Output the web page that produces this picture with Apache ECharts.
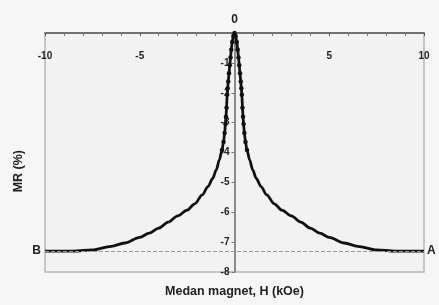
<!DOCTYPE html>
<html lang="en">
  <head>
    <meta charset="UTF-8" />
    <title>MR vs H</title>
    <script src="https://cdn.jsdelivr.net/npm/echarts@6/dist/echarts.min.js"></script>
    <style>
      body { margin: 0; background: #ffffff; }
    </style>
  </head>
  <body>
    <div id="main" style="width: 439px; height: 305px"></div>
    <script type="text/javascript">
      // field values (kOe) on the positive side
      let fieldH = [0, 0.06, 0.12, 0.17, 0.21, 0.25, 0.29, 0.33, 0.36, 0.39, 0.42, 0.45, 0.48, 0.52,
        0.58, 0.66, 0.8, 0.96, 1.15, 1.4, 1.7, 2.1, 2.5, 3.0, 3.5, 4.0, 4.5, 5.0, 5.8, 6.5, 7.5, 8.5, 10];
      // MR (%) at those fields
      let mrValues = [0, -0.1, -0.3, -0.56, -0.82, -1.08, -1.35, -1.62, -1.85, -2.07, -2.5, -2.8, -3.05, -3.35,
        -3.65, -3.92, -4.25, -4.58, -4.87, -5.14, -5.42, -5.72, -5.93, -6.12, -6.33, -6.53, -6.7, -6.84, -7.03, -7.14, -7.26, -7.3, -7.3];
      let saturation = -7.3;
      let xTicks = [-10, -5, 5, 10];

      // curve is symmetric in H: mirror the read branch
      let points = [];
      for (let i = fieldH.length - 1; i > 0; i--) points.push([-fieldH[i], mrValues[i]]);
      for (let i = 0; i < fieldH.length; i++) points.push([fieldH[i], mrValues[i]]);

      let labelFont = { color: "#222", fontFamily: "Liberation Sans", fontWeight: "bold" };

      let options = {
        backgroundColor: "#f6f6f6",
        animation: false,
        grid: {
          left: 45, right: 15, top: 33, bottom: 33,
          show: true, backgroundColor: "#f2f2f2", borderColor: "#b8b8b8", borderWidth: 1.5,
        },
        xAxis: {
          type: "value", position: "top", min: -10, max: 10, interval: 5,
          axisLine: { onZero: false, lineStyle: { color: "#555", width: 1.5 } },
          axisTick: { show: true, inside: true, length: 3, lineStyle: { color: "#555" } },
          minorTick: { show: true, splitNumber: 5, length: 3, lineStyle: { color: "#777" } },
          splitLine: { show: false },
          axisLabel: Object.assign({
            inside: true, margin: 18, fontSize: 10,
            formatter: (v) => (xTicks.indexOf(v) >= 0 ? String(v) : ""),
          }, labelFont),
          name: "Medan magnet, H (kOe)", nameLocation: "middle", nameGap: -265,
          nameTextStyle: Object.assign({ fontSize: 12.5 }, labelFont),
        },
        yAxis: {
          type: "value", min: -8, max: 0, interval: 1,
          // move the axis to H = 0 (middle of the plot)
          position: "left", offset: -189.5,
          axisLine: { onZero: false, lineStyle: { color: "#8a8a8a", width: 2 } },
          axisTick: { show: true, length: 3, lineStyle: { color: "#777" } },
          splitLine: { show: false },
          axisLabel: Object.assign({
            margin: 5, fontSize: 10,
            formatter: (v) => (v === 0 ? "" : String(v)),
          }, labelFont),
          name: "0", nameLocation: "end", nameGap: 7,
          nameTextStyle: Object.assign({ fontSize: 12, align: "center" }, labelFont),
        },
        graphic: [
          {
            type: "text", left: 12, top: 150, rotation: Math.PI / 2,
            style: { text: "MR (%)", fontSize: 12.5, fill: "#222", fontFamily: "Liberation Sans", fontWeight: "bold", textAlign: "center", textVerticalAlign: "middle" },
          },
        ],
        series: [
          {
            name: "MR",
            type: "line",
            data: points,
            smooth: 0.3,
            smoothMonotone: "x",
            symbol: "circle",
            // dots only show separately on the steep part near H = 0
            symbolSize: (d) => (Math.abs(d[0]) < 0.7 ? 4.5 : 0),
            showSymbol: true,
            itemStyle: { color: "#111" },
            lineStyle: { color: "#111", width: 2.8 },
            markLine: {
              silent: true, symbol: "none",
              lineStyle: { color: "#999", type: "dashed", width: 1 },
              data: [
                { yAxis: saturation, label: { position: "start", formatter: "B", distance: 4, fontSize: 12, color: "#222", fontWeight: "bold", fontFamily: "Liberation Sans" } },
                { yAxis: saturation, label: { position: "end", formatter: "A", distance: 3, fontSize: 12, color: "#222", fontWeight: "bold", fontFamily: "Liberation Sans" } },
              ],
            },
          },
        ],
      };

      let myChart = echarts.init(document.getElementById("main"));
      myChart.setOption(options);
    </script>
  </body>
</html>
